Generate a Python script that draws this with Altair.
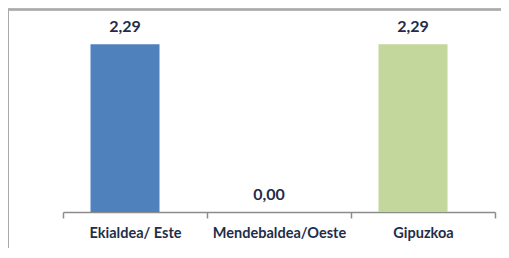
import altair as alt
import pandas as pd

categories = ["Ekialdea/ Este", "Mendebaldea/Oeste", "Gipuzkoa"]
values = [2.29, 0.00, 2.29]
colors = ["#4F81BD", "#4F81BD", "#C3D69B"]

df = pd.DataFrame({"cat": categories, "v": values, "c": colors})

W, H = 432, 183
PAD = {"left": 55, "top": 21, "right": 6, "bottom": 36}
TXT = "#1F2D4A"

x = alt.X("cat:N", sort=categories, title=None,
          scale=alt.Scale(paddingInner=0, paddingOuter=0),
          axis=alt.Axis(labelAngle=0, tickBand="extent", domainColor="#8C8C8C",
                        tickColor="#8C8C8C", domainWidth=1.5, tickWidth=1.5, tickSize=6,
                        labelPadding=8, labelFont="Lato", labelFontWeight="bold",
                        labelFontSize=14.5, labelColor=TXT, grid=False))
y = alt.Y("v:Q", scale=alt.Scale(domain=[0, 2.5]), axis=None)

base = alt.Chart(df)
bars = base.mark_bar(width=69, xOffset=-10).encode(
    x=x, y=y, color=alt.Color("c:N", scale=None))
labels = base.transform_calculate(
    lab="replace(format(datum.v, '.2f'), '.', ',')"
).mark_text(font="Lato", fontWeight="bold", fontSize=16, color=TXT,
            baseline="alphabetic", dy=-12, dx=-10).encode(x=x, y=y, text="lab:N")

frame_top = alt.Chart(df).mark_rule(color="#ABABAB", strokeWidth=2).encode(
    x=alt.value(-PAD["left"]), x2=alt.value(W + PAD["right"]), y=alt.value(-19.5))
frame_left = alt.Chart(df).mark_rule(color="#ABABAB", strokeWidth=2).encode(
    x=alt.value(-PAD["left"]), y=alt.value(-19.5), y2=alt.value(H + PAD["bottom"]))

chart = alt.layer(frame_top, frame_left, bars, labels).properties(
    width=W, height=H, padding=PAD, autosize=alt.AutoSizeParams(type="none")
).configure_view(stroke=None)

chart.save("out.html", embed_options={"renderer": "svg", "actions": False})
